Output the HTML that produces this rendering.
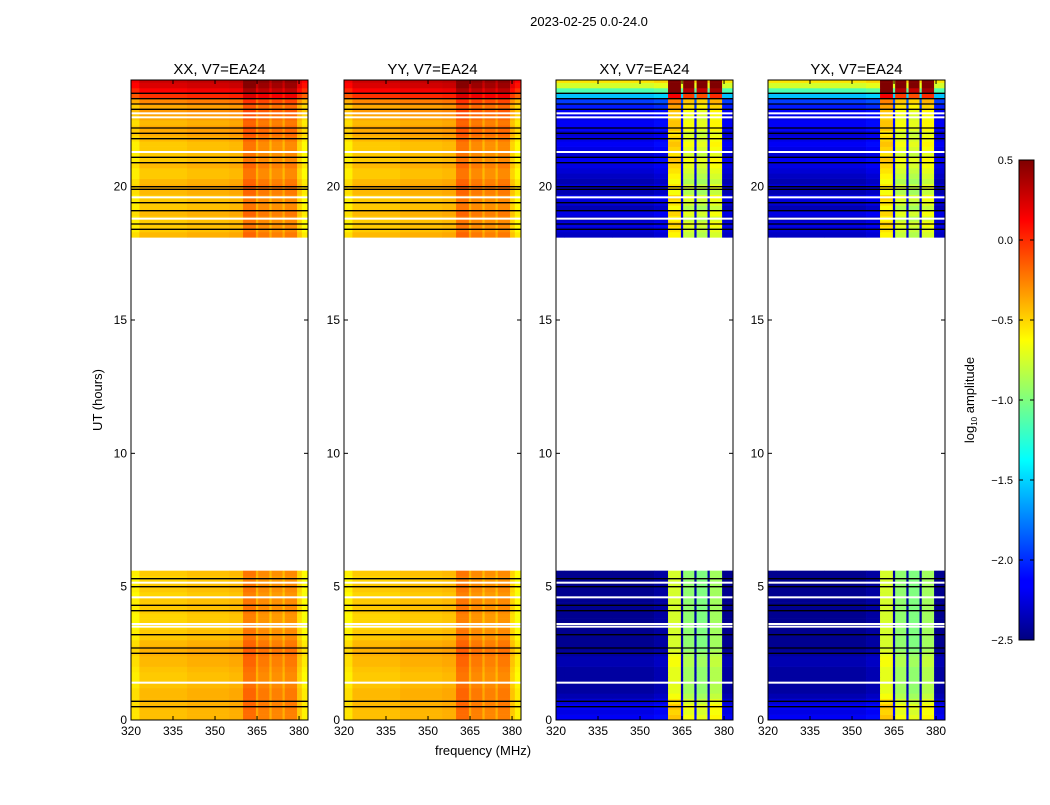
<!DOCTYPE html>
<html><head><meta charset="utf-8"><style>
body{margin:0;background:#fff;}
svg text{font-family:"Liberation Sans",sans-serif;fill:#000;}
</style></head><body>
<svg id="fig" width="1050" height="800" xmlns="http://www.w3.org/2000/svg">
<rect width="1050" height="800" fill="#fff"/>
<text x="589" y="26" font-size="13" text-anchor="middle">2023-02-25 0.0-24.0</text>
<text transform="translate(102,400) rotate(-90)" font-size="13" text-anchor="middle">UT (hours)</text>
<text x="483" y="755" font-size="13" text-anchor="middle">frequency (MHz)</text>
<defs><linearGradient id="jet" x1="0" y1="1" x2="0" y2="0">
<stop offset="0" stop-color="#00007f"/><stop offset="0.11" stop-color="#0000ff"/><stop offset="0.125" stop-color="#0000ff"/>
<stop offset="0.375" stop-color="#00ffff"/><stop offset="0.5" stop-color="#7fff7f"/><stop offset="0.625" stop-color="#ffff00"/>
<stop offset="0.875" stop-color="#ff0000"/><stop offset="1" stop-color="#7f0000"/></linearGradient></defs>
<g id="cbar">
<rect x="1019" y="160" width="15" height="480" fill="url(#jet)" stroke="#000" stroke-width="1"/>
<text transform="translate(974,400) rotate(-90)" font-size="13" text-anchor="middle">log<tspan font-size="8" dy="3">10</tspan><tspan dy="-3"> amplitude</tspan></text>
</g>
</svg>
<script>
// ---- data ----
const panelTitles = ["XX, V7=EA24","YY, V7=EA24","XY, V7=EA24","YX, V7=EA24"];
const xTicks = [320,335,350,365,380];
const yTicks = [0,5,10,15,20];
const cbarTicks = [0.5,0.0,-0.5,-1.0,-1.5,-2.0,-2.5];
// frequency segments (MHz start) and log amplitudes
const segStart = [320,323,340,355,360,364.6,365.4,369.4,370.2,374.1,374.9,379.3,381];
const parSeg  = [-0.58,-0.47,-0.44,-0.42,-0.22,-0.4,-0.28,-0.42,-0.3,-0.42,-0.28,-0.5,-0.62];
const crossSeg= [-2.45,-2.45,-2.45,-2.4,-0.75,-2.4,-0.95,-2.4,-1.0,-2.4,-0.9,-2.45,-2.45];
// time rows (hour starts, 0.2 h each)
const rowStart = [0,0.2,0.4,0.6,0.8,1.0,1.2,1.4,1.6,1.8,2.0,2.2,2.4,2.6,2.8,3.0,3.2,3.4,3.6,3.8,4.0,4.2,4.4,4.6,4.8,5.0,5.2,5.4,
18.1,18.3,18.5,18.7,18.9,19.1,19.3,19.5,19.7,19.9,20.1,20.3,20.5,20.7,20.9,21.1,21.3,21.5,21.7,21.9,22.1,22.3,22.5,22.7,22.9,23.1,23.3,23.5,23.7,23.9];
const parRow = [0.03,0.03,0.05,0.05,0.05,0.05,0.02,0.0,0.0,0.02,0.05,0.05,0.08,0.08,0.05,0.0,0.0,-0.03,-0.03,-0.03,0.0,0.0,0.0,-0.03,0.0,0.0,-0.03,0.0,
0.05,0.0,0.0,0.0,0.05,0.0,0.0,0.0,0.05,0.08,0.05,0.0,0.0,0.05,0.0,0.0,0.0,0.0,0.05,0.1,0.1,0.05,0.1,0.15,0.1,0.2,0.45,0.6,0.7,0.75];
const crossRow = [0.3,0.25,0.3,0.2,0.1,0.05,0.05,0.05,0.05,0.05,0.1,0.1,0.05,0.0,0.0,0.0,0.0,0.0,0.0,0.0,0.0,0.0,0.0,0.0,0.0,0.0,0.0,0.0,
0.15,0.2,0.25,0.15,0.25,0.1,0.2,0.25,0.1,0.2,0.1,0.15,0.2,0.25,0.3,0.2,0.25,0.3,0.25,0.2,0.3,0.3,0.25,0.3,0.4,0.5,0.9,1.3,1.7,1.9];
const blackLines = [0.5,0.7,2.5,2.7,3.2,4.1,4.3,5.0,5.3,18.4,18.6,19.1,19.4,19.9,20.0,20.9,21.1,21.8,22.0,22.2,22.9,23.1,23.3,23.5];
const whiteLines = [1.4,3.5,3.6,4.6,5.15,18.8,19.6,21.3,22.6,22.75];

// ---- layout ----
const panelX = [131,344,556,768], PW = 177, PY0 = 80, PY1 = 720;
const FMIN = 320, FMAX = 383.2, TMIN = 0, TMAX = 24;
const NS = "http://www.w3.org/2000/svg";
const svg = document.getElementById('fig');
function el(tag, attrs, parent){const e=document.createElementNS(NS,tag);for(const k in attrs)e.setAttribute(k,attrs[k]);(parent||svg).appendChild(e);return e;}
function jet(v){let t=(v+2.5)/3;t=Math.max(0,Math.min(1,t));const c=x=>Math.round(255*Math.max(0,Math.min(1,x)));
 return `rgb(${c(1.5-Math.abs(4*t-3))},${c(1.5-Math.abs(4*t-2))},${c(1.5-Math.abs(4*t-1))})`;}

panelTitles.forEach((title,p)=>{
  const x0 = panelX[p];
  const xs = f => x0 + (f-FMIN)/(FMAX-FMIN)*PW;
  const ys = t => PY1 - (t-TMIN)/(TMAX-TMIN)*(PY1-PY0);
  const g = el('g',{});
  
  
  const seg = p<2 ? parSeg : crossSeg, rowOff = p<2 ? parRow : crossRow;
  rowStart.forEach((t,r)=>{
    const t1 = Math.min(t+0.2, TMAX);
    segStart.forEach((f,s)=>{
      const f1 = s+1<segStart.length ? segStart[s+1] : FMAX;
      const rc = el('rect',{x:xs(f).toFixed(2),y:ys(t1).toFixed(2),width:(xs(f1)-xs(f)+0.3).toFixed(2),height:(ys(t)-ys(t1)+0.3).toFixed(2),fill:jet(seg[s]+rowOff[r])},g);
      
      
    });
  });
  whiteLines.forEach(t=>{const l=el('rect',{x:x0,y:ys(t)-1,width:PW,height:2,fill:'#fff'},g);
    });
  blackLines.forEach(t=>{const l=el('line',{x1:x0,x2:x0+PW,y1:ys(t),y2:ys(t),stroke:'#000','stroke-width':1.3},g);
    });
  const fr = el('rect',{x:x0,y:PY0,width:PW,height:PY1-PY0,fill:'none',stroke:'#000','stroke-width':1},g);
  
  const tt = el('text',{x:x0+PW/2,y:74,'font-size':15,'text-anchor':'middle'},g); tt.textContent=title;
  
  xTicks.forEach(f=>{const x=xs(f);
    el('line',{x1:x,x2:x,y1:PY1,y2:PY1-4,stroke:'#000'},g);el('line',{x1:x,x2:x,y1:PY0,y2:PY0+4,stroke:'#000'},g);
    const tx=el('text',{x:x,y:PY1+15,'font-size':12,'text-anchor':'middle'},g);tx.textContent=f;
    });
  yTicks.forEach(t=>{const y=ys(t);
    el('line',{x1:x0,x2:x0+4,y1:y,y2:y,stroke:'#000'},g);el('line',{x1:x0+PW,x2:x0+PW-4,y1:y,y2:y,stroke:'#000'},g);
    const ty=el('text',{x:x0-4,y:y+4,'font-size':12,'text-anchor':'end'},g);ty.textContent=t;
    });
});
const cb = document.getElementById('cbar');
cbarTicks.forEach(v=>{const y=640-(v+2.5)/3*480;
  el('line',{x1:1019,x2:1023,y1:y,y2:y,stroke:'#000'},cb);el('line',{x1:1034,x2:1030,y1:y,y2:y,stroke:'#000'},cb);
  const t=el('text',{x:1013,y:y+4,'font-size':11,'text-anchor':'end'},cb);t.textContent=v.toFixed(1).replace('-','\u2212');
  });
</script>
</body></html>
